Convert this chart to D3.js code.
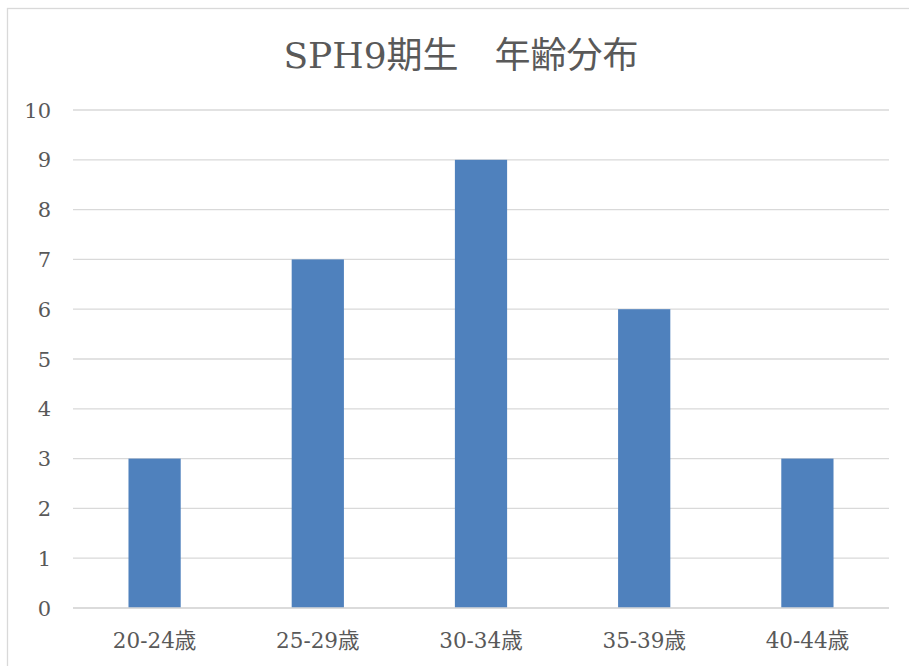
<!DOCTYPE html>
<html><head><meta charset="utf-8">
<script src="https://cdn.jsdelivr.net/npm/d3@7"></script>
<style>html,body{margin:0;padding:0;background:#fff;overflow:hidden}</style>
</head><body>
<script>
const title = "SPH9期生　年齢分布";
const categories = ["20-24歳", "25-29歳", "30-34歳", "35-39歳", "40-44歳"];
const values = [3, 7, 9, 6, 3];
const yTicks = [0, 1, 2, 3, 4, 5, 6, 7, 8, 9, 10];

const W = 909, H = 666;
const font = "DejaVu Serif, Noto Sans CJK JP, serif";
const svg = d3.select("body").append("svg").attr("width", W).attr("height", H);

// chart border
svg.append("rect").attr("x", 7.5).attr("y", 8.5).attr("width", 920).attr("height", 700)
  .attr("fill", "#fff").attr("stroke", "#d9d9d9").attr("stroke-width", 1.3);

const plot = {left: 73, right: 889, top: 110, bottom: 608};
const x = d3.scaleBand().domain(categories).range([plot.left, plot.right]).paddingInner(0.68).paddingOuter(0.34);
const y = d3.scaleLinear().domain([0, 10]).range([plot.bottom, plot.top]);

// gridlines
svg.append("g").selectAll("line").data(yTicks).join("line")
  .attr("x1", plot.left).attr("x2", plot.right)
  .attr("y1", d => y(d)).attr("y2", d => y(d))
  .attr("stroke", "#d9d9d9").attr("stroke-width", 1.3);

// bars
svg.append("g").selectAll("rect").data(values).join("rect")
  .attr("x", (d, i) => x(categories[i]))
  .attr("width", x.bandwidth())
  .attr("y", d => y(d))
  .attr("height", d => y(0) - y(d))
  .attr("fill", "#4f81bd");

// baseline
svg.append("line").attr("x1", plot.left).attr("x2", plot.right)
  .attr("y1", y(0)).attr("y2", y(0)).attr("stroke", "#d9d9d9").attr("stroke-width", 1.3);

// y labels
svg.append("g").selectAll("text").data(yTicks).join("text")
  .attr("x", 51).attr("y", d => y(d)).attr("dy", "0.36em")
  .attr("text-anchor", "end").attr("font-family", font).attr("font-size", 21)
  .attr("fill", "#595959").text(d => d);

// x labels
svg.append("g").selectAll("text").data(categories).join("text")
  .attr("x", d => x(d) + x.bandwidth() / 2).attr("y", 648)
  .attr("text-anchor", "middle").attr("font-family", font).attr("font-size", 21.5)
  .attr("fill", "#595959").text(d => d);

// title
svg.append("text").attr("x", 461).attr("y", 68).attr("text-anchor", "middle")
  .attr("font-family", font).attr("font-size", 36).attr("fill", "#595959").text(title);
</script>
</body></html>
